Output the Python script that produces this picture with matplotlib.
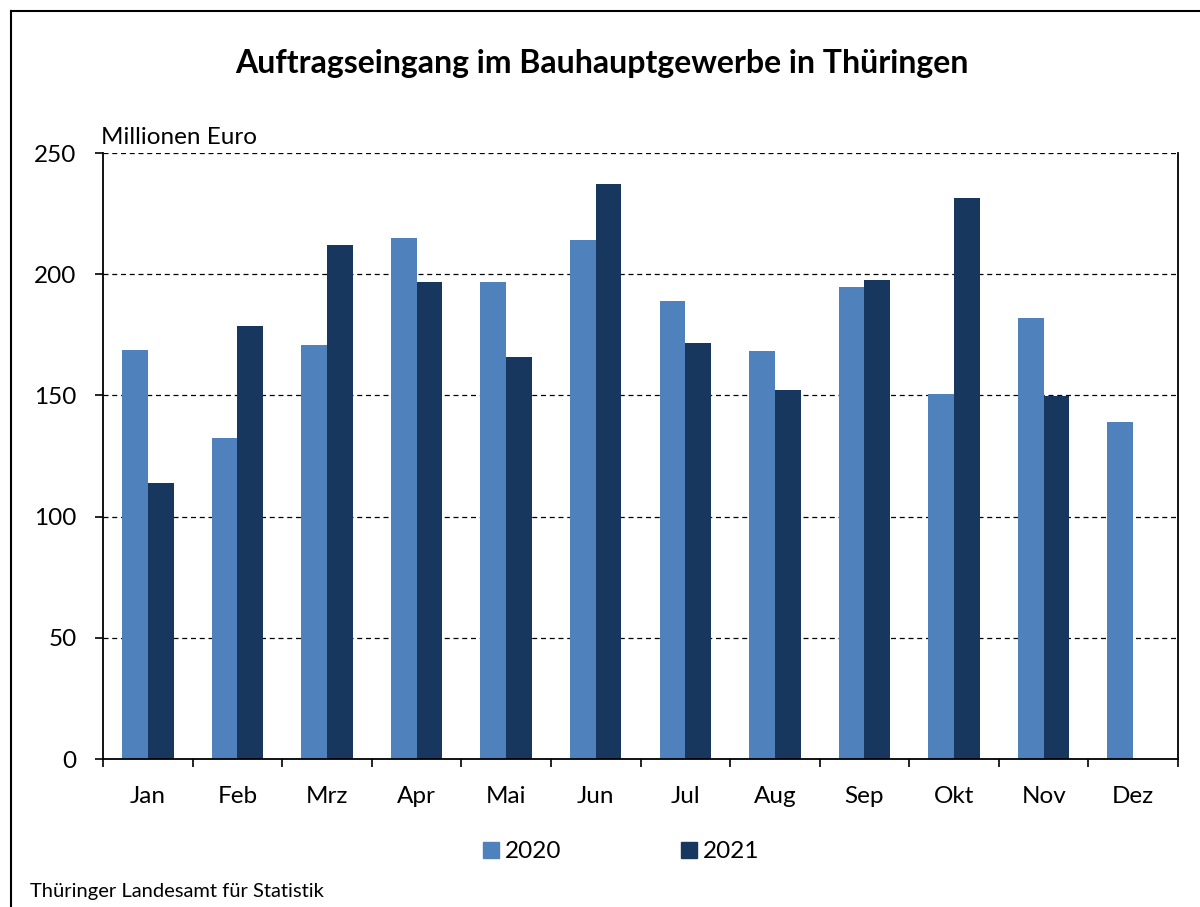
import matplotlib
matplotlib.use("Agg")
import matplotlib.pyplot as plt
import numpy as np
from matplotlib.lines import Line2D
from matplotlib.patches import Rectangle

months = ["Jan", "Feb", "Mrz", "Apr", "Mai", "Jun", "Jul", "Aug", "Sep", "Okt", "Nov", "Dez"]
values_2020 = [168.7, 132.4, 170.8, 214.9, 196.8, 214.1, 188.9, 168.3, 194.7, 150.6, 181.9, 139.0]
values_2021 = [113.9, 178.6, 212.0, 196.8, 165.8, 237.2, 171.6, 152.2, 197.6, 231.4, 149.8]
yticks = [0, 50, 100, 150, 200, 250]

c2020 = "#4F81BD"
c2021 = "#17375E"
FONT = "Lato"
plt.rcParams["font.family"] = [FONT, "DejaVu Sans"]
FS = 17.5

W, H = 1200, 907
fig = plt.figure(figsize=(W / 100, H / 100), dpi=100)

def fx(px):
    return px / W

def fy(py):
    return 1 - py / H

# outer frame (left and top visible)
fig.add_artist(Line2D([fx(10.5), fx(10.5)], [fy(11), 0], color="black", lw=1.5, transform=fig.transFigure))
fig.add_artist(Line2D([fx(10.5), 1], [fy(11), fy(11)], color="black", lw=1.5, transform=fig.transFigure))

ax = fig.add_axes([fx(103), fy(759), fx(1178) - fx(103), fy(153) - fy(759)])
x = np.arange(len(months))
w = 0.287
ax.bar(x[:len(values_2020)] - w / 2, values_2020, width=w, color=c2020, zorder=2, label="2020")
ax.bar(x[:len(values_2021)] + w / 2, values_2021, width=w, color=c2021, zorder=2, label="2021")

ax.set_xlim(-0.5, len(months) - 0.5)
ax.set_ylim(0, 250)
ax.set_yticks(yticks)
ax.set_yticklabels([str(v) for v in yticks], fontsize=FS)
for v in yticks[1:]:
    ax.axhline(v, color="black", lw=0.9, ls=(0, (4, 3)), zorder=1)

ax.set_xticks(np.arange(-0.5, len(months), 1.0))
ax.set_xticklabels([])
ax.set_xticks(x, minor=True)
ax.set_xticklabels(months, minor=True, fontsize=FS)
ax.tick_params(axis="x", which="major", length=6, width=1.2, direction="out")
ax.tick_params(axis="x", which="minor", length=0, pad=19.5)
ax.tick_params(axis="y", length=6, width=1.2, direction="out", pad=13)

for s in ["left", "bottom", "right"]:
    ax.spines[s].set_linewidth(1.3)
ax.spines["top"].set_visible(False)

fig.text(fx(602), fy(64), "Auftragseingang im Bauhauptgewerbe in Thüringen", ha="center", va="center",
         fontsize=23, fontweight="bold")
fig.text(fx(101), fy(138), "Millionen Euro", ha="left", va="center", fontsize=FS)
fig.text(fx(30), fy(891), "Thüringer Landesamt für Statistik", ha="left", va="center", fontsize=14.5)

# legend
for px, lab, col in [(483, "2020", c2020), (681, "2021", c2021)]:
    fig.add_artist(Rectangle((fx(px), fy(858)), fx(16), fy(842) - fy(858), color=col, transform=fig.transFigure))
    fig.text(fx(px + 22), fy(851), lab, ha="left", va="center", fontsize=FS)

fig.savefig("out.png", dpi=100)
